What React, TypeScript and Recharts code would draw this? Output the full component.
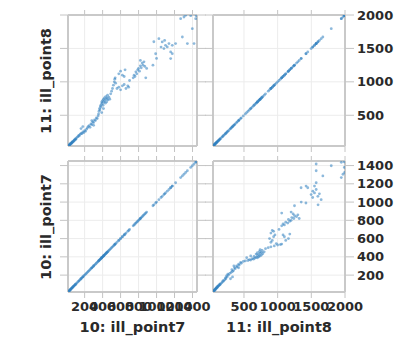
import React from 'react';
import { ScatterChart, Scatter, XAxis, YAxis, CartesianGrid } from 'recharts';

// ill_point7 / ill_point8 pairs
const point7 = [
  22, 28, 30, 35, 38, 42, 45, 50, 55, 58, 62, 66, 70, 75, 80, 85, 90, 95, 100, 105,
  115, 125, 135, 140, 150, 160, 170, 180, 190, 200, 210, 220, 180, 160,
  230, 240, 250, 260, 270, 280, 290, 300, 310, 320, 330, 340, 350, 300, 280,
  355, 360, 365, 370, 375, 380, 385, 390, 395, 400, 405, 410, 415, 420, 425, 430, 435, 440, 445, 450, 455, 460, 470, 480, 390, 410,
  490, 500, 510, 520, 530, 535, 540, 545, 560, 580, 600, 620, 640, 660, 680, 690, 580, 600, 620, 650, 640, 700,
  740, 750, 760, 770, 780, 790, 800, 810, 820, 830, 840, 850, 860, 870, 880, 890, 820, 960, 990, 1000,
  970, 1026, 1063, 1082, 1100, 1119, 1138, 1157, 1175, 1175, 1157, 1212, 1050, 1090,
  1268, 1305, 1324, 1380, 1287, 1398, 1417, 1343, 1435, 1440,
];
const point8 = [
  45, 52, 60, 58, 70, 66, 80, 75, 90, 85, 100, 95, 110, 105, 120, 130, 125, 140, 150, 145,
  170, 180, 200, 190, 215, 230, 225, 250, 240, 270, 260, 290, 330, 300,
  310, 330, 345, 320, 370, 360, 400, 390, 430, 420, 460, 450, 490, 350, 420,
  520, 560, 600, 580, 640, 620, 660, 700, 680, 720, 650, 740, 700, 760, 720, 680, 780, 740, 700, 760, 800, 730, 770, 740, 540, 600,
  820, 860, 900, 950, 1000, 1040, 1060, 980, 900, 920, 880, 940, 960, 900, 940, 920, 1120, 1160, 1100, 1180, 1080, 1020,
  1060, 1100, 1080, 1150, 1120, 1180, 1200, 1160, 1240, 1210, 1280, 1250, 1300, 1230, 1060, 1200, 1320, 1250, 1420, 1350,
  1600, 1646, 1597, 1497, 1547, 1522, 1572, 1447, 1547, 1422, 1348, 1572, 1520, 1620,
  1945, 1970, 1995, 1990, 1671, 1796, 1572, 1572, 1945, 1990,
];
const ticks7 = [200, 400, 600, 800, 1000, 1200, 1400];
const ticks8 = [500, 1000, 1500, 2000];
const domain7: [number, number] = [15, 1450];
const domain8: [number, number] = [40, 2000];
const label7 = '10: ill_point7';
const label8 = '11: ill_point8';

const rows = point7.map((v, i) => ({ p7: v, p8: point8[i] }));

const W = 398;
const H = 338;
const FONT = '"DejaVu Sans", sans-serif';
const BORDER = '#c9c9c9';
const TICKC = '#c4c4c4';
const TEXTC = '#2a2a2a';

type PanelProps = {
  rect: [number, number, number, number];
  xKey: string;
  yKey: string;
  xDomain: [number, number];
  yDomain: [number, number];
  xTicks: number[];
  yTicks: number[];
  xLabels: boolean;
  yLabels: boolean;
};

const blank = () => '';

function Dot(props: any) {
  const { cx, cy } = props;
  if (cx == null || cy == null) return null;
  return <circle cx={cx} cy={cy} r={1.4} fill="#2f7fc0" fillOpacity={0.55} />;
}

function Panel({ rect, xKey, yKey, xDomain, yDomain, xTicks, yTicks, xLabels, yLabels }: PanelProps) {
  const [x0, y0, x1, y1] = rect;
  const LW = 10, RW = 50, TH = 10, BH = 30;
  const margin = { left: x0 - LW, right: W - x1 - RW, top: y0 - TH, bottom: H - y1 - BH };
  const tickStyle = { fontSize: 13, fontFamily: FONT, fontWeight: 'bold', fill: TEXTC };
  const axisLine = { stroke: BORDER, strokeWidth: 2 };
  const tickLine = { stroke: TICKC, strokeWidth: 1 };
  return (
    <div style={{ position: 'absolute', left: 0, top: 0 }}>
      <ScatterChart width={W} height={H} margin={margin}>
        <CartesianGrid stroke="#ececec" strokeWidth={1} xAxisId="b" yAxisId="l" />
        <XAxis xAxisId="b" dataKey={xKey} type="number" domain={xDomain} allowDataOverflow ticks={xTicks}
          interval={0} orientation="bottom" height={BH} axisLine={axisLine} tickLine={tickLine}
          tickSize={6} tickMargin={4} tick={tickStyle} tickFormatter={xLabels ? undefined : blank} />
        <XAxis xAxisId="t" dataKey={xKey} type="number" domain={xDomain} allowDataOverflow ticks={xTicks}
          interval={0} orientation="top" height={TH} axisLine={axisLine} tickLine={tickLine}
          tickSize={5} tick={tickStyle} tickFormatter={blank} />
        <YAxis yAxisId="l" dataKey={yKey} type="number" domain={yDomain} allowDataOverflow ticks={yTicks}
          interval={0} orientation="left" width={LW} axisLine={axisLine} tickLine={tickLine}
          tickSize={8} tick={tickStyle} tickFormatter={blank} />
        <YAxis yAxisId="r" dataKey={yKey} type="number" domain={yDomain} allowDataOverflow ticks={yTicks}
          interval={0} orientation="right" width={RW} axisLine={axisLine} tickLine={tickLine}
          tickSize={9} tickMargin={3} tick={{ ...tickStyle, textAnchor: 'start' }}
          tickFormatter={yLabels ? undefined : blank} />
        <Scatter data={rows} xAxisId="b" yAxisId="l" shape={<Dot />} isAnimationActive={false} />
      </ScatterChart>
    </div>
  );
}

const titleStyle: React.CSSProperties = {
  position: 'absolute',
  fontFamily: FONT,
  fontWeight: 'bold',
  fontSize: 14.5,
  color: TEXTC,
  whiteSpace: 'nowrap',
  lineHeight: '16px',
};

export default function App() {
  const TL: [number, number, number, number] = [68, 15, 197, 146];
  const TR: [number, number, number, number] = [213, 15, 345, 146];
  const BL: [number, number, number, number] = [68, 161, 197, 292];
  const BR: [number, number, number, number] = [213, 161, 345, 292];
  return (
    <div style={{ position: 'absolute', left: 0, top: 0, width: W, height: H, background: '#fff', overflow: 'hidden' }}>
      <Panel rect={TL} xKey="p7" yKey="p8" xDomain={domain7} yDomain={domain8} xTicks={ticks7} yTicks={ticks8} xLabels={false} yLabels={false} />
      <Panel rect={TR} xKey="p8" yKey="p8" xDomain={domain8} yDomain={domain8} xTicks={ticks8} yTicks={ticks8} xLabels={false} yLabels={true} />
      <Panel rect={BL} xKey="p7" yKey="p7" xDomain={domain7} yDomain={domain7} xTicks={ticks7} yTicks={ticks7} xLabels={true} yLabels={false} />
      <Panel rect={BR} xKey="p8" yKey="p7" xDomain={domain8} yDomain={domain7} xTicks={ticks8} yTicks={ticks7} xLabels={true} yLabels={true} />
      <div style={{ ...titleStyle, left: 46, top: 80.5, transform: 'translate(-50%, -50%) rotate(-90deg)' }}>{label8}</div>
      <div style={{ ...titleStyle, left: 46, top: 226.5, transform: 'translate(-50%, -50%) rotate(-90deg)' }}>{label7}</div>
      <div style={{ ...titleStyle, left: 132.5, top: 327, transform: 'translate(-50%, -50%)' }}>{label7}</div>
      <div style={{ ...titleStyle, left: 279, top: 327, transform: 'translate(-50%, -50%)' }}>{label8}</div>
    </div>
  );
}
